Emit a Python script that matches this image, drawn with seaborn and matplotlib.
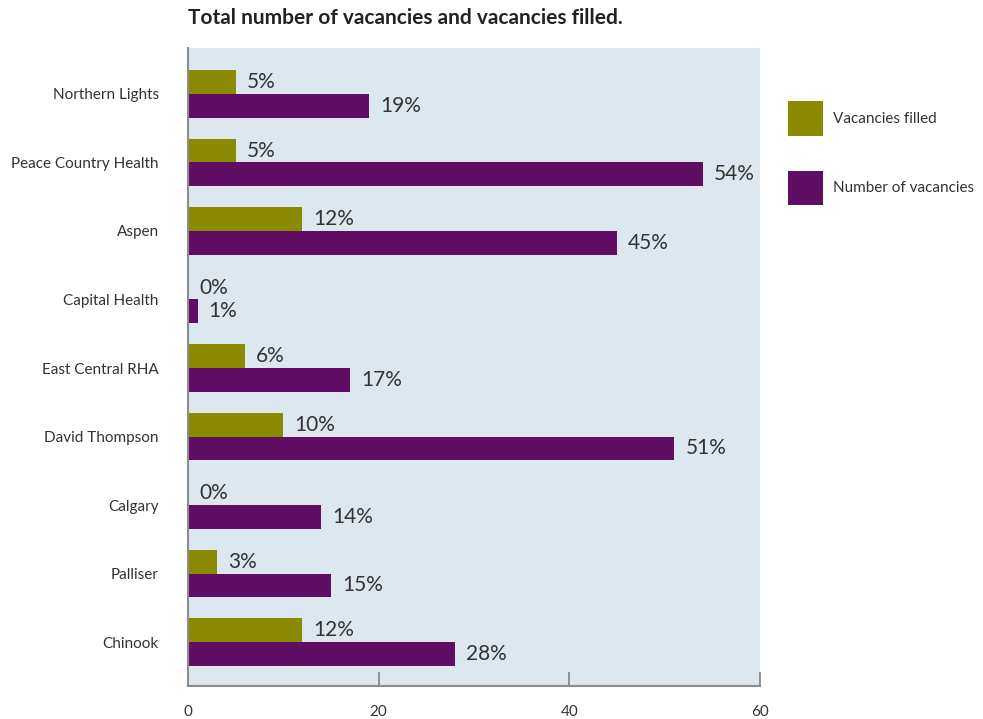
import matplotlib
matplotlib.use("Agg")
import matplotlib.pyplot as plt
from matplotlib.patches import Patch
import pandas as pd
import seaborn as sns

regions = ["Northern Lights", "Peace Country Health", "Aspen", "Capital Health",
           "East Central RHA", "David Thompson", "Calgary", "Palliser", "Chinook"]
filled = [5, 5, 12, 0, 6, 10, 0, 3, 12]
vacancies = [19, 54, 45, 1, 17, 51, 14, 15, 28]
series = ["Vacancies filled", "Number of vacancies"]
x_ticks = [0, 20, 40, 60]

OLIVE = "#8a8b00"
PURPLE = "#600e64"
PANEL = "#dce7f0"
TEXT = "#333333"

df = pd.DataFrame({
    "region": regions * 2,
    "series": [series[0]] * len(regions) + [series[1]] * len(regions),
    "value": filled + vacancies,
})

sns.set_style("white")
plt.rcParams["font.family"] = ["Lato", "DejaVu Sans"]

fig = plt.figure(figsize=(9.83, 7.19), dpi=100)
ax = fig.add_axes([188 / 983, 1 - 686 / 719, (760 - 188) / 983, (686 - 48) / 719])

sns.barplot(data=df, y="region", x="value", hue="series", order=regions,
            hue_order=series, palette=[OLIVE, PURPLE], orient="h",
            width=0.69, saturation=1, legend=False, ax=ax)

ax.set_facecolor(PANEL)
ax.set_xlim(0, 60)
ax.set_ylim(8.64, -0.67)
ax.set_xticks(x_ticks)
ax.set_xticklabels([str(t) for t in x_ticks], fontsize=11, color=TEXT)
ax.tick_params(axis="x", bottom=True, direction="in", length=10, width=1.2,
               color="#808080", pad=14)
ax.tick_params(axis="y", left=False, length=0, pad=21, labelsize=11,
               labelcolor=TEXT)
ax.set_xlabel("")
ax.set_ylabel("")

for side in ("top", "right"):
    ax.spines[side].set_visible(False)
for side in ("left", "bottom"):
    ax.spines[side].set_color("#8c8c8c")
    ax.spines[side].set_linewidth(1.5)

for container, vals in zip(ax.containers, [filled, vacancies]):
    for patch in container:
        patch.set_edgecolor("none")
    ax.bar_label(container, labels=[f"{v}%" for v in vals], padding=8,
                 fontsize=15, color=TEXT)

handles = [Patch(facecolor=OLIVE, edgecolor="none"),
           Patch(facecolor=PURPLE, edgecolor="none")]
fig.legend(handles, series, loc="upper left",
           bbox_to_anchor=(788 / 983, 1 - 101 / 719), frameon=False,
           fontsize=11, handlelength=2.3, handleheight=3.1, handletextpad=0.65,
           labelspacing=2.3, borderpad=0, borderaxespad=0, labelcolor=TEXT)

fig.text(188 / 983, 1 - 18 / 719, "Total number of vacancies and vacancies filled.",
         fontsize=15, fontweight="bold", color="#222222", va="center", ha="left")

fig.savefig("out.png", dpi=100, facecolor="white")
